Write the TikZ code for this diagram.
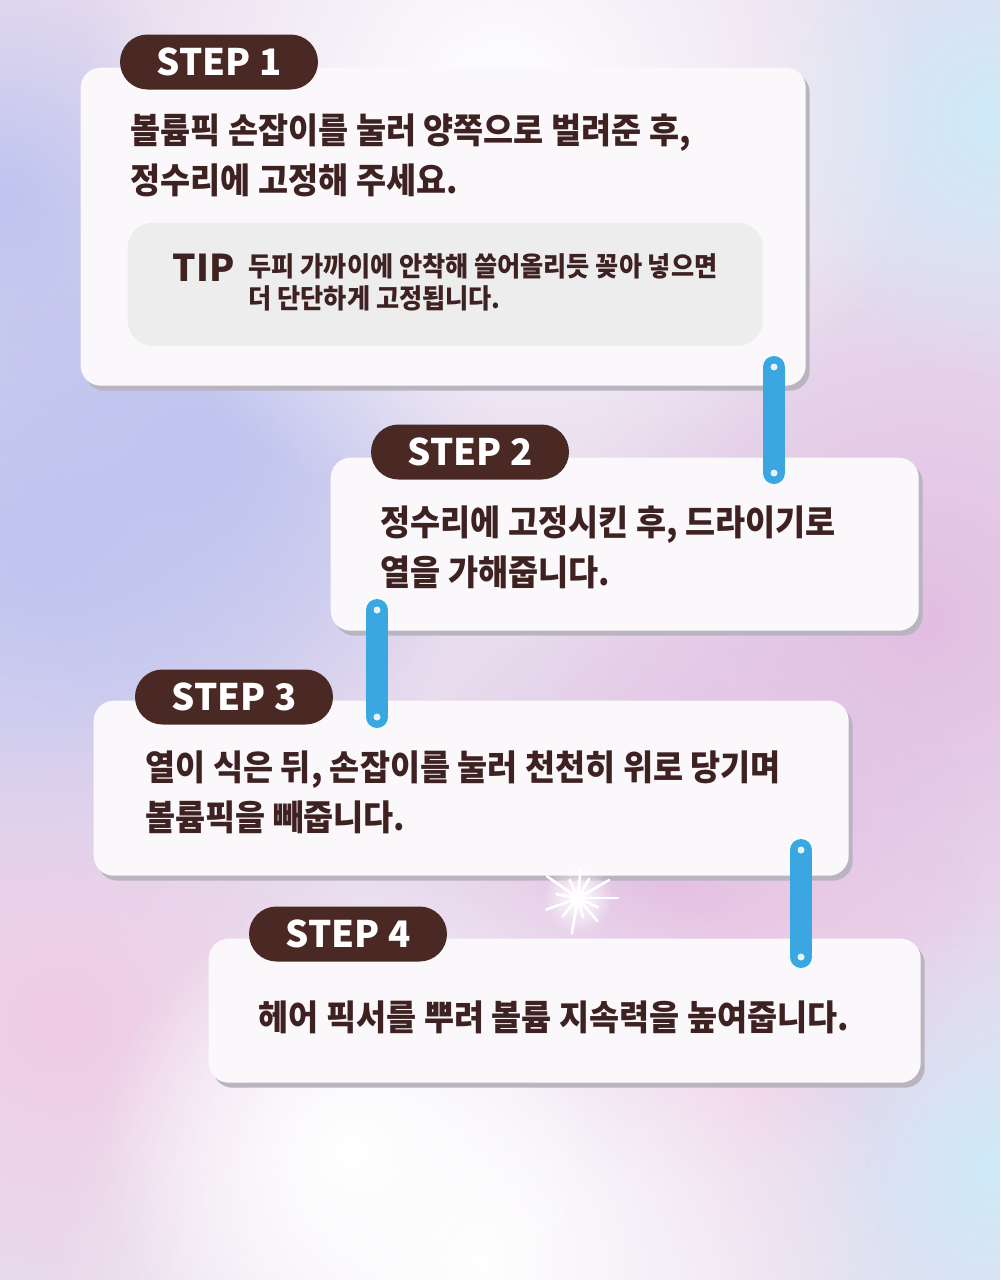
\documentclass[tikz,border=0pt]{standalone}
\usepackage{fontspec}
\usepackage{tikz}
\usetikzlibrary{positioning,calc,shadows,fadings}
\newfontfamily\krfont{Noto Sans CJK KR}[FakeStretch=0.93]
\newfontfamily\latfont{Noto Sans CJK KR}
\definecolor{StepBrown}{RGB}{74,40,36}
\definecolor{StepInk}{RGB}{62,34,33}
\definecolor{StepLink}{RGB}{58,166,226}
\definecolor{StepDot}{RGB}{232,240,248}
\definecolor{CardWhite}{RGB}{251,248,251}
\definecolor{CardShadow}{RGB}{186,180,192}
\definecolor{TipGray}{RGB}{238,237,238}
\definecolor{BgBase}{RGB}{232,220,238}
\definecolor{BgBlue}{RGB}{190,196,240}
\definecolor{BgPink}{RGB}{226,190,226}
\definecolor{BgRose}{RGB}{240,204,230}
\definecolor{BgSky}{RGB}{206,234,248}
\tikzfading[name=softblob, inner color=transparent!0, outer color=transparent!100]

\begin{document}
\begin{tikzpicture}[x=0.1mm,y=-0.1mm,
  card/.style={rounded corners=2mm,fill=CardWhite,anchor=north west,inner sep=0,
               drop shadow={shadow xshift=0.4mm,shadow yshift=-0.5mm,fill=CardShadow,opacity=1}},
  badge/.style={rounded corners=2.75mm,fill=StepBrown,text=white,minimum width=19.8mm,
                minimum height=5.5mm,inner sep=0,font=\latfont\bfseries\fontsize{10.4pt}{11pt}\selectfont},
  steptext/.style={anchor=west,align=left,inner sep=0,text=StepInk,
                   font=\krfont\bfseries\fontsize{10pt}{14.2pt}\selectfont},
  tipbox/.style={rounded corners=2.5mm,fill=TipGray,anchor=north west,inner sep=0},
  link/.style={line width=2.2mm,line cap=round,draw=StepLink},
  dot/.style={circle,fill=StepDot,inner sep=0,minimum size=0.7mm},
  blob/.style={path fading=softblob}
]
\useasboundingbox (0,0) rectangle (1000,1280);

\begin{scope}
  \clip (0,0) rectangle (1000,1280);
  \fill[BgBase] (0,0) rectangle (1000,1280);
  \fill[BgBlue,blob] (40,540) circle (420);
  \fill[BgBlue,blob] (200,450) circle (300);
  \fill[BgBlue,blob] (0,200) circle (250);
  \fill[BgPink,blob] (920,620) circle (380);
  \fill[BgPink,blob] (680,880) circle (300);
  \fill[BgRose,blob] (60,1020) circle (300);
  \fill[BgRose,blob] (800,1050) circle (250);
  \fill[BgSky,blob] (1000,120) circle (260);
  \fill[BgSky,blob] (1000,1170) circle (260);
  \fill[white,blob] (500,100) circle (420);
  \fill[white,blob] (480,1260) circle (420);
  \fill[white,blob] (350,1150) circle (250);
\end{scope}

\node[card,minimum width=72.5mm,minimum height=31.8mm] (box1) at (80,67) {};
\node[card,minimum width=58.8mm,minimum height=17.3mm] (box2) at (330,457) {};
\node[card,minimum width=75.5mm,minimum height=17.5mm] (box3) at (93,700) {};
\node[card,minimum width=71.2mm,minimum height=14.4mm] (box4) at (208,938) {};

\node[badge] (s1) at (219,62) {STEP 1};
\node[badge] (s2) at (470,452) {STEP 2};
\node[badge] (s3) at (234,697) {STEP 3};
\node[badge] (s4) at (348,934) {STEP 4};

\node[steptext] (t1) at (130,155) {볼륨픽 손잡이를 눌러 양쪽으로 벌려준 후,\\정수리에 고정해 주세요.};
\node[tipbox,minimum width=63.5mm,minimum height=12.3mm] (tip) at (127,222) {};
\node[anchor=west,inner sep=0,text=StepInk,font=\latfont\bfseries\fontsize{10.5pt}{11pt}\selectfont] (tiplabel) at (172,268) {TIP};
\node[anchor=west,align=left,inner sep=0,text=StepInk,font=\krfont\bfseries\fontsize{7.7pt}{9.1pt}\selectfont] (tiptext) at (248,282) {두피 가까이에 안착해 쓸어올리듯 꽂아 넣으면\\더 단단하게 고정됩니다.};
\node[steptext] (t2) at (380,547) {정수리에 고정시킨 후, 드라이기로\\열을 가해줍니다.};
\node[steptext] (t3) at (145,792) {열이 식은 뒤, 손잡이를 눌러 천천히 위로 당기며\\볼륨픽을 빼줍니다.};
\node[steptext] (t4) at (258,1017) {헤어 픽서를 뿌려 볼륨 지속력을 높여줍니다.};

\coordinate (l1a) at (774,367); \coordinate (l1b) at (774,473);
\coordinate (l2a) at (377,610); \coordinate (l2b) at (377,717);
\coordinate (l3a) at (801,850); \coordinate (l3b) at (801,957);
\draw[link] (l1a) -- (l1b);
\draw[link] (l2a) -- (l2b);
\draw[link] (l3a) -- (l3b);
\foreach \p in {l1a,l1b,l2a,l2b,l3a,l3b} \node[dot] at (\p) {};

\fill[white,blob] (578,898) circle (35);
\foreach \a/\r in {0/40,25/22,50/30,75/20,100/36,130/24,160/34,190/22,215/38,245/20,275/30,300/22,330/36}
  \draw[white,line width=0.25mm,line cap=round] (578,898) -- ++(\a:\r);
\fill[white] (578,898) circle (8);
\end{tikzpicture}
\end{document}
